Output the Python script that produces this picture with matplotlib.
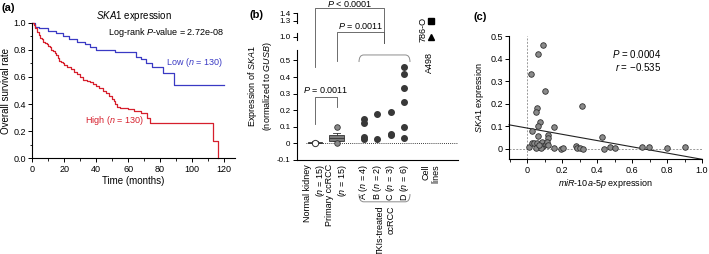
import numpy as np
import matplotlib
matplotlib.use('Agg')
import matplotlib.pyplot as plt
from matplotlib.ticker import FixedLocator, MultipleLocator
from matplotlib.path import Path
from matplotlib.patches import PathPatch

plt.rcParams['font.family'] = ['Liberation Sans', 'DejaVu Sans']
plt.rcParams['mathtext.fontset'] = 'custom'
plt.rcParams['mathtext.it'] = 'Liberation Sans:italic'
plt.rcParams['mathtext.rm'] = 'Liberation Sans'
plt.rcParams['font.size'] = 6.5

# ---- panel (a): Kaplan-Meier, SKA1 low / high
t_low = [0, 2, 4, 10, 15, 19, 23, 28, 33, 36, 40, 52, 65, 68, 71, 75, 82, 88.5, 120]
s_low = [1.0, 0.97, 0.96, 0.94, 0.925, 0.90, 0.88, 0.86, 0.84, 0.82, 0.80, 0.785,
         0.75, 0.73, 0.70, 0.67, 0.63, 0.54, 0.54]
t_high = [0, 1, 2, 3, 4, 5, 6, 7, 8, 9, 10, 11, 12, 13, 14, 15, 16, 17, 18, 19, 20,
          22, 24, 26, 28, 30, 32, 34, 36, 38, 40, 42, 44, 46, 48, 50, 51, 52, 53, 55,
          60, 64, 68, 72, 74, 113.5, 116.4]
s_high = [1.0, 0.98, 0.96, 0.93, 0.91, 0.89, 0.88, 0.86, 0.85, 0.84, 0.83, 0.82, 0.80,
          0.79, 0.78, 0.76, 0.74, 0.72, 0.71, 0.70, 0.69, 0.675, 0.66, 0.64, 0.62, 0.60,
          0.58, 0.57, 0.56, 0.55, 0.535, 0.52, 0.50, 0.48, 0.46, 0.44, 0.42, 0.40, 0.38,
          0.37, 0.36, 0.35, 0.335, 0.30, 0.26, 0.13, 0.0]

# ---- panel (b): SKA1 expression by group
grp_labels = ['Normal kidney\n($\\mathit{n}$ = 15)', 'Primary ccRCC\n($\\mathit{n}$ = 15)',
              'A ($\\mathit{n}$ = 4)', 'B ($\\mathit{n}$ = 2)', 'C ($\\mathit{n}$ = 3)',
              'D ($\\mathit{n}$ = 6)', 'Cell\nlines']
grp_pos = [1, 2.6, 4.6, 5.6, 6.6, 7.6, 9.6]
normal_stats = dict(q1=0.003, med=0.005, q3=0.008, whislo=0.0, whishi=0.012, fliers=[])
primary_stats = dict(q1=0.015, med=0.03, q3=0.05, whislo=0.012, whishi=0.06,
                     fliers=[0.10, 0.005])
tki_a = [0.149, 0.12, 0.04, 0.024]
tki_b = [0.18, 0.028]
tki_c = [0.189, 0.057, 0.05]
tki_d = [0.462, 0.416, 0.335, 0.251, 0.10, 0.034]
cell_786o = 1.3
cell_a498 = 1.0

# ---- panel (c): miR-10a-5p vs SKA1
mir_x = [0.088, 0.059, 0.021, 0.101, 0.313, 0.057, 0.050, 0.073, 0.059, 0.154, 0.025,
         0.063, 0.12, 0.117, 0.425, 0.011, 0.025, 0.040, 0.057, 0.073, 0.086, 0.091,
         0.105, 0.114, 0.117, 0.05, 0.08, 0.065, 0.154, 0.19, 0.202, 0.278, 0.286,
         0.301, 0.317, 0.438, 0.476, 0.501, 0.657, 0.695, 0.797, 0.905]
ska_y = [0.46, 0.42, 0.331, 0.257, 0.191, 0.181, 0.164, 0.12, 0.10, 0.096, 0.08,
         0.058, 0.061, 0.046, 0.051, 0.009, 0.027, 0.027, 0.024, 0.009, 0.031, 0.013,
         0.02, 0.031, 0.015, 0.003, 0.002, 0.015, 0.005, 0.0, 0.003, 0.013, 0.002,
         0.002, 0.0, 0.0, 0.006, 0.002, 0.006, 0.006, 0.003, 0.006]
fit_x = [-0.105, 1.0]
fit_y = [0.106, -0.047]

W, H = 709, 254
fig = plt.figure(figsize=(W / 100, H / 100), dpi=100)


def frac(left, top, right, bottom):
    return [left / W, (H - bottom) / H, (right - left) / W, (bottom - top) / H]


def style(ax, size=6.5):
    for s in ['top', 'right']:
        ax.spines[s].set_visible(False)
    for s in ['left', 'bottom']:
        ax.spines[s].set_linewidth(0.8)
    ax.tick_params(which='major', length=3, width=0.7, labelsize=size, pad=1.5)
    ax.tick_params(which='minor', length=1.8, width=0.6)


blue = '#3a3ac4'
red = '#d61f2c'

# ================= (a)
ax = fig.add_axes(frac(32.3, 22.7, 235, 158.3))
style(ax)
ax.step(t_low, s_low, where='post', color=blue, lw=0.9, clip_on=False)
ax.step(t_high, s_high, where='post', color=red, lw=0.9, clip_on=False)
ax.set_xlim(0, 127)
ax.set_ylim(0, 1.0)
ax.xaxis.set_major_locator(MultipleLocator(20))
ax.xaxis.set_minor_locator(MultipleLocator(10))
ax.yaxis.set_major_locator(MultipleLocator(0.2))
ax.yaxis.set_minor_locator(MultipleLocator(0.1))
ax.yaxis.set_major_formatter(matplotlib.ticker.FormatStrFormatter('%.1f'))
ax.set_xlabel('Time (months)', fontsize=7, labelpad=2)
ax.set_ylabel('Overall survival rate', fontsize=7, labelpad=2)
ax.set_title('$\\mathit{SKA1}$ expression', fontsize=7, pad=1.5)
ax.text(120, 0.925, 'Log-rank $\\mathit{P}$-value = 2.72e-08', ha='right', va='center',
        fontsize=6.5)
ax.text(84, 0.71, 'Low ($\\mathit{n}$ = 130)', color=blue, ha='left', va='center', fontsize=6.5)
ax.text(33, 0.28, 'High ($\\mathit{n}$ = 130)', color=red, ha='left', va='center', fontsize=6.5)
fig.text(1 / W, 1 - 8 / H, '(a)', fontsize=8, fontweight='bold', va='center', ha='left')

# ================= (b)
knots_val = np.array([-0.1, 0.5, 1.0, 1.3, 1.4, 2.0])
knots_pos = np.array([0.0, 99.6, 123.3, 139.3, 146.7, 191.1])


def fwd(v):
    return np.interp(v, knots_val, knots_pos)


def inv(p):
    return np.interp(p, knots_pos, knots_val)


ax = fig.add_axes(frac(296.7, 13.3, 458, 160))
style(ax, 5.8)
ax.set_yscale('function', functions=(fwd, inv))
ax.set_ylim(-0.1, 1.4)
ax.set_xlim(-0.36, 11.6)
ax.spines['left'].set_visible(False)
ytk = [-0.1, 0, 0.1, 0.2, 0.3, 0.4, 0.5, 1.0, 1.3, 1.4]
ax.yaxis.set_major_locator(FixedLocator(ytk))
ax.set_yticklabels(['-0.1', '0', '0.1', '0.2', '0.3', '0.4', '0.5', '1.0', '1.3', '1.4'])
ax.yaxis.set_minor_locator(FixedLocator([]))
ytr = ax.get_yaxis_transform()
for lo, hi in [(-0.1, 0.72), (0.92, 1.075), (1.256, 1.4)]:
    ax.plot([0, 0], [lo, hi], color='k', lw=0.8, transform=ytr, clip_on=False)
ax.set_xticks(grp_pos)
ax.set_xticklabels(grp_labels, rotation=90, va='top', ha='center',
                   multialignment='right', fontsize=6.5)
ax.tick_params(axis='x', length=0, pad=3)
ax.set_ylabel('Expression of $\\mathit{SKA1}$\n(normalized to $\\mathit{GUSB}$)',
              fontsize=6.5, labelpad=2)
ax.axhline(0, xmin=0.06, xmax=1, color='k', lw=0.6, ls=(0, (1, 1.5)))

bx = ax.bxp([normal_stats], positions=[grp_pos[0]], widths=1.0, showfliers=False,
            patch_artist=True, manage_ticks=False)
for b in bx['boxes']:
    b.set(facecolor='#808080', edgecolor='#333333', linewidth=0.6)
for k in ['whiskers', 'caps', 'medians']:
    for l in bx[k]:
        l.set(color='#333333', linewidth=0.6)
ax.plot([grp_pos[0]], [normal_stats['med']], 'o', ms=4.5, mfc='white', mec='#333333',
        mew=0.7, zorder=4)
bx = ax.bxp([primary_stats], positions=[grp_pos[1]], widths=1.1, showfliers=True,
            patch_artist=True, manage_ticks=False,
            flierprops=dict(marker='o', ms=4, mfc='#8a8a8a', mec='#333333', mew=0.6))
for b in bx['boxes']:
    b.set(facecolor='#7a7a7a', edgecolor='#333333', linewidth=0.6)
for k in ['whiskers', 'caps', 'medians']:
    for l in bx[k]:
        l.set(color='#333333', linewidth=0.6)

dark = '#383838'
for pos, vals in zip(grp_pos[2:6], [tki_a, tki_b, tki_c, tki_d]):
    ax.plot([pos] * len(vals), vals, 'o', ms=4, color=dark, mec=dark, zorder=3)
ax.plot([grp_pos[6]], [cell_786o], 's', ms=4, color='k', clip_on=False)
ax.plot([grp_pos[6]], [cell_a498], '^', ms=4.5, color='k', clip_on=False)
ax.text(9.0, 1.13, '786-O', rotation=90, ha='center', va='center', fontsize=6.5)
ax.text(9.5, 0.49, 'A498', rotation=90, ha='center', va='center', fontsize=6.5)

# significance brackets
bk = dict(color='#555555', lw=0.6, clip_on=False)
ax.plot([1, 1, 2.6, 2.6], [0.115, 0.28, 0.28, 0.22], **bk)
ax.text(1.8, 0.32, '$\\mathit{P}$ = 0.0011', ha='center', va='center', fontsize=6.5)
ax.plot([2.6, 2.6, 6.1, 6.1], [0.494, 1.088, 1.088, 0.87], **bk)
ax.text(4.4, 1.20, '$\\mathit{P}$ = 0.0011', ha='center', va='center', fontsize=6.5)
ax.plot([1, 1, 6.1, 6.1], [0.458, 1.47, 1.47, 0.87], **bk)
ax.text(3.6, 1.525, '$\\mathit{P}$ < 0.0001', ha='center', va='center', fontsize=6.5)

# braces around TKI groups
xtr = ax.get_xaxis_transform()
x0, x1, r = 4.26, 8.04, 0.35
for ytop, yend in [(0.716, 0.668), (-0.285, -0.232)]:
    verts = [(x0, yend), (x0, ytop), (x0 + r, ytop), (x1 - r, ytop), (x1, ytop), (x1, yend)]
    codes = [Path.MOVETO, Path.CURVE3, Path.CURVE3, Path.LINETO, Path.CURVE3, Path.CURVE3]
    ax.add_patch(PathPatch(Path(verts, codes), fill=False, edgecolor='#8c8c8c', lw=0.7,
                           transform=xtr, clip_on=False))
ax.text(6.23, -0.31, 'TKIs-treated\nccRCC', rotation=90, ha='center', va='top',
        multialignment='right', fontsize=6.5, transform=xtr, clip_on=False)
fig.text(250 / W, 1 - 15 / H, '(b)', fontsize=8, fontweight='bold', va='center', ha='left')

# ================= (c)
ax = fig.add_axes(frac(509, 36, 702, 159.3))
style(ax)
ax.set_xlim(-0.105, 1.0)
ax.set_ylim(-0.047, 0.5)
ax.axvline(0, color='#999999', lw=0.7, ls=(0, (2, 1.5)), zorder=1)
ax.axhline(0, color='#999999', lw=0.7, ls=(0, (2, 1.5)), zorder=1)
ax.plot(fit_x, fit_y, color='#222222', lw=0.8, zorder=2, clip_on=False)
ax.scatter(mir_x, ska_y, s=16, c='#8a8a8a', edgecolors='#303030', linewidths=0.6, zorder=3,
           clip_on=False)
ax.xaxis.set_major_locator(FixedLocator([0, 0.2, 0.4, 0.6, 0.8, 1.0]))
ax.set_xticklabels(['0', '0.2', '0.4', '0.6', '0.8', '1.0'])
ax.xaxis.set_minor_locator(FixedLocator([-0.1, 0.1, 0.3, 0.5, 0.7, 0.9]))
ax.yaxis.set_major_locator(FixedLocator([0, 0.1, 0.2, 0.3, 0.4, 0.5]))
ax.set_yticklabels(['0', '0.1', '0.2', '0.3', '0.4', '0.5'])
ax.set_xlabel('$\\mathit{miR}$-$\\mathit{10a}$-$\\mathit{5p}$ expression', fontsize=6.5,
              labelpad=2)
ax.set_ylabel('$\\mathit{SKA1}$ expression', fontsize=6.5, labelpad=3)
ax.text(0.768, 0.419, '$\\mathit{P}$ = 0.0004', ha='right', va='center', fontsize=7)
ax.text(0.768, 0.364, '$\\mathit{r}$ = \u22120.535', ha='right', va='center', fontsize=7)
fig.text(473 / W, 1 - 17 / H, '(c)', fontsize=8, fontweight='bold', va='center', ha='left')

fig.savefig('out.png', dpi=100)
